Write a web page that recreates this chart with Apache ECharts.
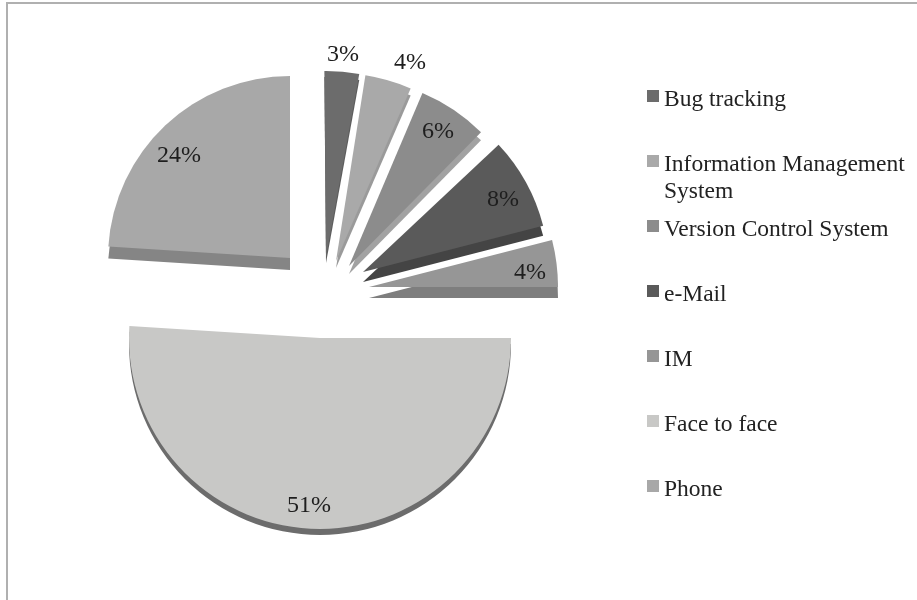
<!DOCTYPE html>
<html>
<head>
<meta charset="utf-8">
<style>html,body{margin:0;padding:0;background:#fff}#chart{width:917px;height:600px}</style>
<script src="https://cdn.jsdelivr.net/npm/echarts@6/dist/echarts.min.js"></script>
</head>
<body>
<div id="chart"></div>
<script>
// Communication channels, share of use in percent
const categories = ['Bug tracking', 'Information Management\nSystem', 'Version Control System', 'e-Mail', 'IM', 'Face to face', 'Phone'];
const shares = [3, 4, 6, 8, 4, 51, 24];

// Slice look
const topColors = ['#6c6c6c', '#a9a9a9', '#8c8c8c', '#5a5a5a', '#969696', '#c8c8c6', '#a8a8a8'];
const sideColors = ['#5c5c5c', '#9a9a9a', '#a2a2a2', '#444444', '#7e7e7e', '#6c6c6c', '#858585'];

// Exploded layout: apex of each slice, its radius, rim depth and perspective tilt in degrees
const apexes = [[326, 257], [336, 261], [349, 266], [363, 272], [369, 287], [320, 338], [290, 258]];
const radii = [186, 188, 188, 186, 189, 191, 182];
const depths = [6, 7, 8, 10, 11, 6, 12];
const tilts = [0.5, 1.8, 2.2, 0, 0, 0, 0];
const labelSpots = [[343, 55], [410, 63], [438, 132], [503, 200], [530, 273], [309, 506], [179, 156]];

const serif = '"Liberation Serif", serif';
const hidden = 'rgba(0,0,0,0)';

// One pie per slice so every slice can sit at its own offset; the whole value
// list stays in each pie, so the library works out all the angles.
function slicePie(active, color, cx, cy, withLabel) {
  return {
    type: 'pie',
    silent: true,
    animation: false,
    startAngle: 90 + tilts[active],
    center: [cx, cy],
    radius: [0, radii[active]],
    avoidLabelOverlap: false,
    emphasis: { disabled: true },
    labelLine: { show: false },
    labelLayout: withLabel ? function (p) {
      if (p.dataIndex !== active) return {};
      return { x: labelSpots[active][0], y: labelSpots[active][1], align: 'center', verticalAlign: 'middle' };
    } : undefined,
    data: shares.map(function (v, i) {
      return {
        name: categories[i],
        value: v,
        itemStyle: { color: i === active ? color : hidden, borderWidth: 0 },
        label: {
          show: withLabel && i === active,
          position: 'inside',
          formatter: function (p) { return p.value + '%'; },
          color: '#1e1e1e',
          fontFamily: serif,
          fontSize: 24
        }
      };
    })
  };
}

const series = [];
shares.forEach(function (v, i) {
  series.push(slicePie(i, sideColors[i], apexes[i][0], apexes[i][1] + depths[i], false));
});
shares.forEach(function (v, i) {
  series.push(slicePie(i, topColors[i], apexes[i][0], apexes[i][1], true));
});

// Legend rows: evenly spaced markers, names sitting a little below the marker centre,
// and a wrapped name hanging below its marker.
const legendFirstRow = 96;
const legendStep = 65;
const legendLine = 27;
const legendDrop = 8;
const legends = categories.map(function (name, i) {
  const lines = name.split('\n');
  const spacer = legendDrop + legendLine * (lines.length - 1);
  const block = spacer + legendLine * lines.length;
  return {
    left: 647,
    top: legendFirstRow + legendStep * i - block / 2,
    padding: 0,
    orient: 'vertical',
    selectedMode: false,
    icon: 'rect',
    itemWidth: 12,
    itemHeight: 12,
    data: [{ name: name, itemStyle: { color: topColors[i], borderWidth: 0 } }],
    formatter: function () {
      return '{gap| }\n' + lines.map(function (l) { return '{t|' + l + '}'; }).join('\n');
    },
    textStyle: {
      rich: {
        gap: { fontSize: 1, lineHeight: spacer, height: spacer },
        t: { fontFamily: serif, fontSize: 23.5, color: '#222222', lineHeight: legendLine }
      }
    }
  };
});

const chart = echarts.init(document.getElementById('chart'), null, { renderer: 'canvas' });
chart.setOption({
  backgroundColor: '#ffffff',
  animation: false,
  legend: legends,
  series: series,
  graphic: [{
    type: 'rect',
    silent: true,
    z: -1,
    shape: { x: 7, y: 3, width: 960, height: 660 },
    style: { fill: 'none', stroke: '#b0b0b0', lineWidth: 2 }
  }]
});
</script>
</body>
</html>
